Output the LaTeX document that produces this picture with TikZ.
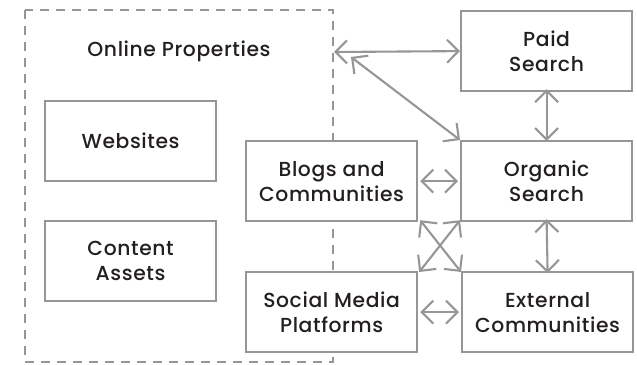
\documentclass[tikz,border=0pt]{standalone}
\usepackage{fontspec}
\setmainfont{Poppins}[UprightFont={* Medium}, LetterSpace=3]
\usetikzlibrary{arrows.meta}
\definecolor{linegray}{RGB}{150,150,150}
\definecolor{textdark}{RGB}{35,31,32}
\tikzset{
  lbl/.style={text=textdark, font=\fontsize{20.3}{25}\selectfont},
  box/.style={draw=linegray, line width=2.2pt, fill=white, minimum width=171pt, minimum height=80pt, inner sep=0pt, align=center, lbl, anchor=north west},
  link/.style={draw=linegray, line width=2.1pt, {Straight Barb[length=11.5pt,width=23pt]}-{Straight Barb[length=11.5pt,width=23pt]}},
}
\begin{document}
\begin{tikzpicture}[x=1pt,y=-1pt]
\useasboundingbox (0,0) rectangle (637,364);
% dashed container
\draw[linegray, line width=1.8pt, dash pattern=on 9pt off 7pt] (25,10) rectangle (333,362);
\node[lbl] (op) at (179,51) {Online Properties};
\coordinate (opR) at (334,52);
\coordinate (opD) at (351,57);
\node[box] (web) at (44,100) {Websites};
\node[box] (ca) at (44,220) {Content\\Assets};
\node[box] (blog) at (245,140) {Blogs and\\Communities};
\node[box] (soc) at (245,271) {Social Media\\Platforms};
\node[box] (paid) at (460,10) {Paid\\Search};
\node[box] (org) at (460,140) {Organic\\Search};
\node[box] (ext) at (461,271) {External\\Communities};
% connectors
\draw[link] (opR) -- (paid.west);
\draw[link] (opD) -- (org.north west);
\draw[link] ([yshift=3pt]paid.south) -- ([yshift=-1pt]org.north);
\draw[link] ([xshift=2pt]blog.east) -- ([xshift=-2pt]org.west);
\draw[link] ([yshift=3pt]org.south) -- ([yshift=-2pt]ext.north);
\draw[link] ([xshift=2pt]soc.east) -- ([xshift=-2pt]ext.west);
\draw[link] ([shift={(2pt,2pt)}]blog.south east) -- ([shift={(0pt,-1pt)}]ext.north west);
\draw[link] ([shift={(0pt,2pt)}]org.south west) -- ([shift={(1pt,-1pt)}]soc.north east);
\end{tikzpicture}
\end{document}
